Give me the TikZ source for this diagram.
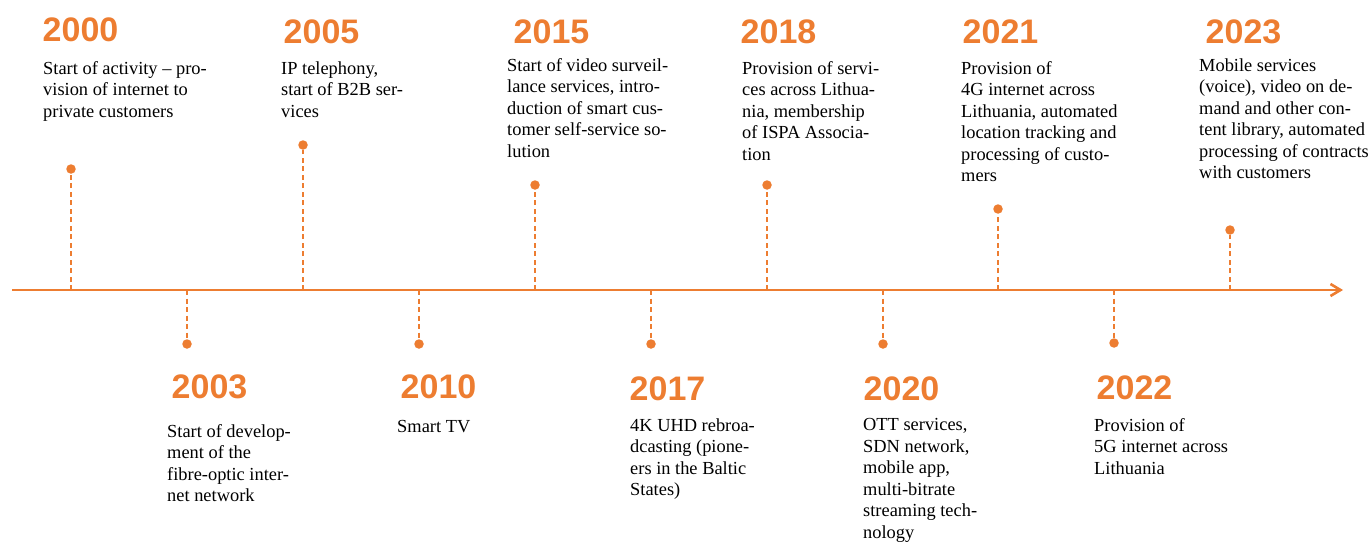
\documentclass[tikz,border=0pt]{standalone}
\usepackage{fontspec}
\setmainfont{Liberation Serif}
\newfontfamily\descfont{Liberation Serif}
\newfontfamily\yearfont{Liberation Sans}
\usetikzlibrary{arrows.meta}
\definecolor{accent}{HTML}{ED7D31}
\begin{document}
\begin{tikzpicture}[x=1pt,y=-1pt,
  year/.style={anchor=base west, inner sep=0pt, text=accent, font=\yearfont\bfseries\fontsize{34}{34}\selectfont},
  desc/.style={anchor=north west, inner sep=0pt, align=left, font=\descfont\fontsize{18.4}{21.5}\selectfont},
  dot/.style={circle, fill=accent, inner sep=0pt, minimum size=9.5pt},
  stem/.style={draw=accent, line width=1.9pt, dash pattern=on 5pt off 3.5pt},
  axisline/.style={draw=accent, line width=2.6pt, -{Straight Barb[length=10pt,width=12pt]}}]

\useasboundingbox (0,0) rectangle (1370,541);

% axis
\coordinate (axstart) at (12,290);
\coordinate (axend) at (1343,290);
\draw[axisline] (axstart) -- (axend);

% ticks on the axis
\coordinate (t2000) at (71,290);
\coordinate (t2003) at (187,290);
\coordinate (t2005) at (303,290);
\coordinate (t2010) at (419,290);
\coordinate (t2015) at (535,290);
\coordinate (t2017) at (651,290);
\coordinate (t2018) at (767,290);
\coordinate (t2020) at (883,290);
\coordinate (t2021) at (998,290);
\coordinate (t2022) at (1114,290);
\coordinate (t2023) at (1230,290);

% dots
\node[dot] (d2000) at (71,169) {};
\node[dot] (d2003) at (187,344) {};
\node[dot] (d2005) at (303,145) {};
\node[dot] (d2010) at (419,344) {};
\node[dot] (d2015) at (535,185) {};
\node[dot] (d2017) at (651,344) {};
\node[dot] (d2018) at (767,185) {};
\node[dot] (d2020) at (883,344) {};
\node[dot] (d2021) at (998,209) {};
\node[dot] (d2022) at (1114,343) {};
\node[dot] (d2023) at (1230,230) {};

% stems
\foreach \y in {2000,2003,2005,2010,2015,2017,2018,2020,2021,2022,2023}
  \draw[stem] (t\y) -- (d\y);

% years above
\node[year] (y2000) at (42.5,41) {2000};
\node[year] (y2005) at (283.5,43) {2005};
\node[year] (y2015) at (513.5,43) {2015};
\node[year] (y2018) at (740.5,43) {2018};
\node[year] (y2021) at (962.5,43) {2021};
\node[year] (y2023) at (1205.5,43) {2023};
% years below
\node[year] (y2003) at (171.5,398) {2003};
\node[year] (y2010) at (400.5,398) {2010};
\node[year] (y2017) at (629.5,400) {2017};
\node[year] (y2020) at (863.5,400) {2020};
\node[year] (y2022) at (1096.5,399) {2022};

% descriptions above
\node[desc] (x2000) at (43,61.3) {Start of activity – pro-\\vision of internet to\\private customers};
\node[desc] (x2005) at (281,61.3) {IP telephony,\\start of B2B ser-\\vices};
\node[desc] (x2015) at (507,58.3) {Start of video surveil-\\lance services, intro-\\duction of smart cus-\\tomer self-service so-\\lution};
\node[desc] (x2018) at (742,61.3) {Provision of servi-\\ces across Lithua-\\nia, membership\\of ISPA Associa-\\tion};
\node[desc] (x2021) at (961,61.3) {Provision of\\4G internet across\\Lithuania, automated\\location tracking and\\processing of custo-\\mers};
\node[desc] (x2023) at (1199,58.3) {Mobile services\\(voice), video on de-\\mand and other con-\\tent library, automated\\processing of contracts\\with customers};
% descriptions below
\node[desc] (x2003) at (167,424.3) {Start of develop-\\ment of the\\fibre-optic inter-\\net network};
\node[desc] (x2010) at (397,420.3) {Smart TV};
\node[desc] (x2017) at (630,418.3) {4K UHD rebroa-\\dcasting (pione-\\ers in the Baltic\\States)};
\node[desc] (x2020) at (863,418.3) {OTT services,\\SDN network,\\mobile app,\\multi-bitrate\\streaming tech-\\nology};
\node[desc] (x2022) at (1094,418.3) {Provision of\\5G internet across\\Lithuania};
\end{tikzpicture}
\end{document}
